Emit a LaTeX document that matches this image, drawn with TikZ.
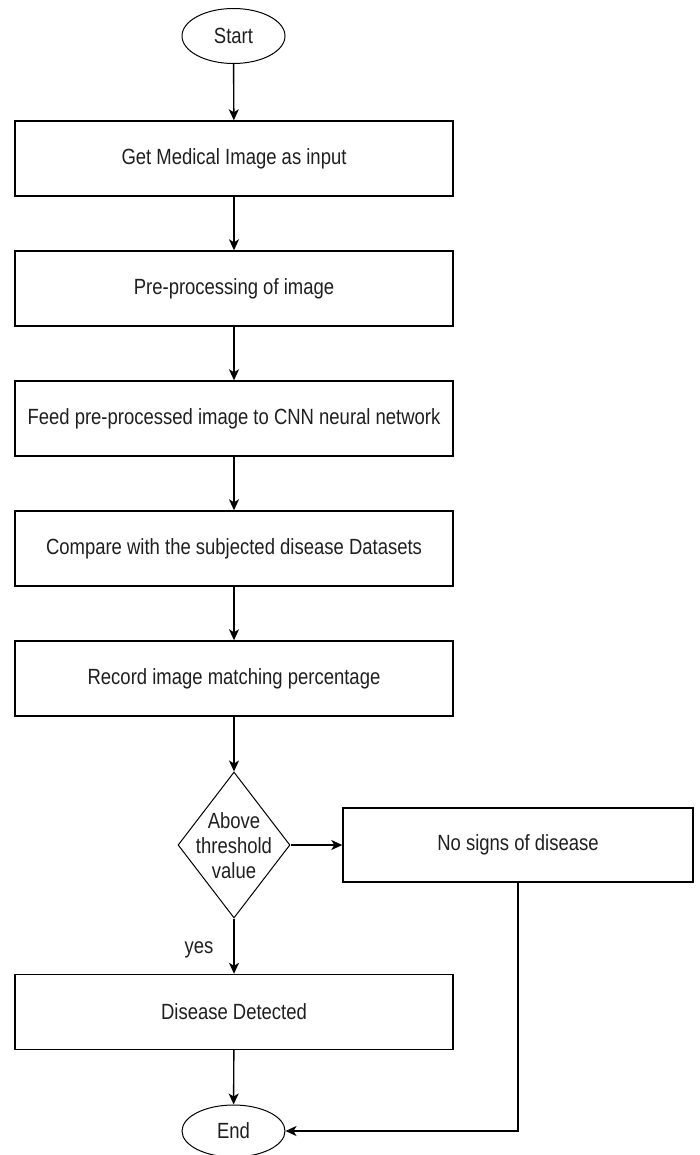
\documentclass[tikz,border=0pt]{standalone}
\usepackage{fontspec}
\setmainfont{Liberation Sans}[FakeStretch=0.84]
\usetikzlibrary{shapes.geometric,arrows.meta}
\begin{document}
\begin{tikzpicture}[x=1pt,y=-1pt,
  every node/.style={font=\fontsize{22}{25}\selectfont, text=black!88},
  procbox/.style={draw, line width=1.4pt, rectangle, minimum width=438pt, minimum height=75pt, inner sep=0pt},
  termin/.style={draw, line width=1pt, ellipse, minimum width=103pt, minimum height=55pt, inner sep=0pt},
  decis/.style={draw, line width=1pt, diamond, minimum width=112pt, minimum height=146pt, inner sep=0pt},
  arr/.style={line width=1.4pt, -{Stealth[length=11pt,width=10pt,inset=3pt]}}
]
\useasboundingbox (0,0) rectangle (700,1155);
\node[termin] (start) at (233.5,36) {Start};
\node[procbox] (b1) at (234,158.5) {Get Medical Image as input};
\node[procbox] (b2) at (234,288.5) {Pre-processing of image};
\node[procbox] (b3) at (234,418.5) {Feed pre-processed image to CNN neural network};
\node[procbox] (b4) at (234,548.5) {Compare with the subjected disease Datasets};
\node[procbox] (b5) at (234,678.5) {Record image matching percentage};
\node[decis] (dec) at (234,845) {};
\node[align=center, inner sep=0pt] (dectext) at (234,846) {Above\\threshold\\value};
\node[procbox, minimum width=350pt, minimum height=74pt] (nosign) at (518,845) {No signs of disease};
\node[procbox] (dd) at (234,1012) {Disease Detected};
\node[termin, minimum height=52pt] (end) at (233.5,1131) {End};
\node (yes) at (199,950) {yes};
\draw[arr] (start) -- (b1);
\draw[arr] (b1) -- (b2);
\draw[arr] (b2) -- (b3);
\draw[arr] (b3) -- (b4);
\draw[arr] (b4) -- (b5);
\draw[arr] (b5) -- (dec);
\draw[arr] (dec.east) -- (nosign.west);
\draw[arr] (dec.south) -- (dd.north);
\draw[arr] (dd) -- (end);
\draw[arr] (nosign.south) |- (end.east);
\end{tikzpicture}
\end{document}
